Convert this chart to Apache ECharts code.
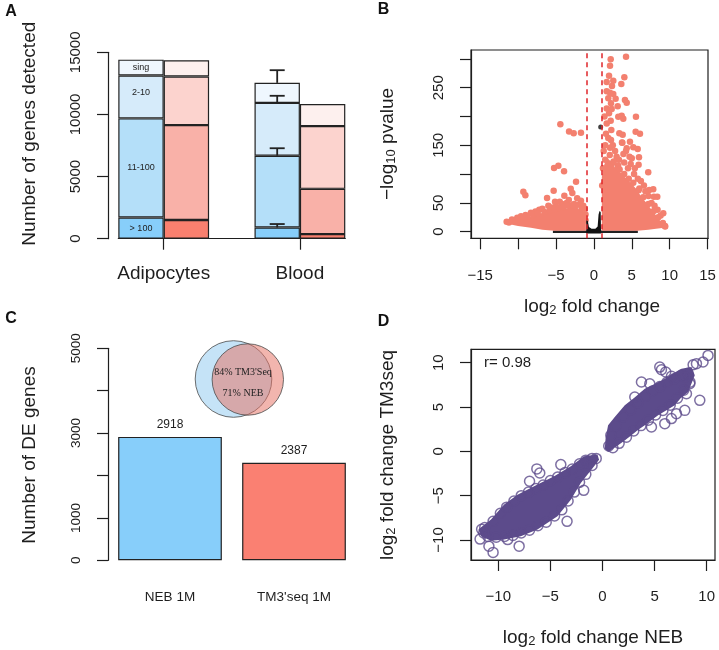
<!DOCTYPE html>
<html><head><meta charset="utf-8">
<script src="https://cdn.jsdelivr.net/npm/echarts@6/dist/echarts.min.js"></script>
<style>html,body{margin:0;padding:0;background:#fff}#c{width:719px;height:650px}</style>
</head><body><div id="c"></div>
<script>
// ---------- Panel A : genes detected ----------
const aCategories = ['Adipocytes NEB', 'Adipocytes TM3', '', 'Blood NEB', 'Blood TM3'];
const aGroupLabels = ['Adipocytes', 'Blood'];
const aLayers = ['> 100', '11-100', '2-10', 'sing'];
const aAdipoNEB = [1700, 7980, 3450, 1280];
const aAdipoTM3 = [1500, 7640, 3910, 1310];
const aBloodNEB = [900, 5780, 4250, 1610];
const aBloodTM3 = [370, 3640, 5050, 1770];
const aBloodNEBErrTop = [1180, 7280, 11500, 13560];
const aYTicks = [0, 5000, 10000, 15000];

// ---------- Panel B : volcano ----------
const bXTicks = [-15, -10, -5, 0, 5, 10, 15];
const bXLabels = [-15, -5, 0, 5, 10, 15];
const bYTicks = [0, 50, 100, 150, 200, 250, 300];
const bYLabels = [0, 50, 150, 250];
const bCutoffs = [-1, 1];
const bLeftCloud = [[-11.6,17],[-11,19],[-10,21],[-9.6,24],[-8.5,26],[-7.9,29],[-7,32],[-6.1,34],[-5.5,35],[-4.8,38],[-4,39],[-3,42],[-2.1,40],[-1.3,35],[-1.05,33],[-1.05,1.5],[-5.2,1.5],[-6.8,3.5],[-8.3,7],[-10,10],[-11.6,14]];
const bRightCloud = [[1.05,1.5],[1.05,95],[1.4,118],[1.9,126],[2.4,120],[2.9,108],[3.6,102],[4.3,92],[5.0,83],[5.6,74],[6.3,60],[7.0,49],[7.6,38],[8.3,27],[8.9,16],[9.3,10],[9.3,7],[8.2,5],[7.2,3.5],[5.7,1.5]];
const bNonSigBand = [[-5.4,2],[5.8,2],[5.8,-2.5],[-5.4,-2.5]];
const bNonSigCentre = [[-1.0,-3],[-1.0,20],[-0.8,19],[-0.65,8],[-0.3,5],[0.2,5],[0.5,9],[0.62,30],[0.75,36],[0.9,34],[0.95,-3]];
const bNonSigPoints = [[0.9,181.8]];
const bSigPoints = [
  [-11.5,17.4],[-9.3,69.4],[-9.03,63.2],[-6.17,58.5],[-5.3,71.2],[-5.12,52.1],[-4.5,52.1],[-3.89,62.5],
  [-3.05,74.7],[-2.84,67.2],[-2.35,86.8],[-1.7,53.8],[-5.25,110.6],[-4.68,114.6],[-3.93,104.8],
  [-4.42,186.5],[-3.27,174],[-2.66,171],[-1.7,172],
  [-10.8,21],[-10.1,24],[-9.6,27],[-9.0,29],[-8.3,33],[-7.7,35],[-7.2,38],[-6.8,40],[-6.0,45],[-5.6,42],
  [-5.0,44],[-4.2,48],[-3.6,50],[-3.3,55],[-2.6,48],[-2.2,58],[-1.9,47],[-1.4,45],[-1.2,40],
  [-11.2,16],[-10.4,19],[-9.9,22],[-9.3,24],[-8.8,26],[-8.0,29],[-7.4,31],[-6.5,34],[-5.8,37],[-5.2,38],
  [-4.6,41],[-4.0,43],[-3.4,45],[-2.8,46],[-2.4,44],[-1.6,40],[-1.1,30],[-1.1,20],
  [4.24,303.8],[2.22,299.3],[2.13,288],[2.0,270.8],[4.02,268],[1.69,259.9],[2.56,262],[3.62,256.4],
  [2.39,253],[1.69,243.7],[2.13,241.3],[2.56,239],[1.9,231.6],[2.87,231],[2.26,223],[4.1,228.6],
  [4.33,224],[1.69,214],[2.35,213],[3.14,218],[2.0,205.6],[3.22,199.7],[3.67,201.4],[3.88,196],
  [5.55,199.7],[1.69,188],[2.22,192.7],[2.3,176.6],[3.36,170.8],[3.8,168.4],[5.51,173.6],[6.08,170],
  [1.9,162.7],[2.26,159.2],[3.71,155],[4.76,156.3],[5.2,146.5],[5.78,143.6],[4.33,144.8],[2.13,145.8],
  [3.75,154.5],[4.24,140],[5.95,129.2],[5.0,127.4],[4.86,117.5],[5.9,116.3],[7.17,103.1],[2.56,119.8],
  [7.83,73.6],[7.3,72.4],[7.92,60.8],[8.36,60.8],[9.15,32],[9.38,9.9],
  [1.3,140],[1.5,150],[2.8,140],[3.0,130],[3.3,125],[4.0,120],[4.5,110],[3.2,115],[5.3,100],[5.8,92],
  [6.2,88],[6.6,80],[6.0,75],[6.8,70],[7.2,62],[7.6,50],[8.0,45],[8.4,38],[8.8,28],[5.4,110],[4.7,130],
  [3.9,135],[2.5,150],[1.6,170],[1.4,200],
  [1.1,80],[1.2,110],[1.5,125],[2.1,133],[2.6,122],[3.1,110],[3.4,108],[4.0,100],[4.6,92],[5.2,85],
  [5.9,72],[6.5,60],[7.2,48],[7.9,36],[8.5,25],[9.1,15],[9.4,9]
];

// ---------- Panel C : DE genes ----------
const cCategories = ['NEB 1M', "TM3'seq 1M"];
const cValues = [2910, 2300];
const cValueLabels = ['2918', '2387'];
const cYLabels = [0, 1000, 3000, 5000];
const cVennTexts = ["84% TM3'Seq", '71% NEB'];

// ---------- Panel D : fold change correlation ----------
const dTicks = [-10, -5, 0, 5, 10];
const dCorrelation = 'r= 0.98';
const dLowerCloud = [[-11.9,-8.8],[-10.7,-7.7],[-9.44,-6.0],[-8.16,-4.9],[-6.24,-3.75],[-4.64,-2.82],[-3.04,-1.69],[-1.76,-0.56],[-0.48,-0.37],[-0.33,-0.94],[-0.8,-1.69],[-2.08,-3.56],[-3.04,-5.45],[-4.32,-7.33],[-6.24,-8.83],[-7.84,-9.58],[-9.44,-9.96],[-10.7,-10.1],[-11.66,-9.58]];
const dUpperCloud = [[0.22,0.3],[0.3,1.5],[0.54,2.93],[1.2,3.9],[2.14,5.19],[3.0,6.0],[4.06,7.07],[5.0,7.6],[5.98,8.2],[6.8,8.8],[7.58,9.32],[8.54,9.5],[8.86,8.57],[8.22,6.7],[7.5,6.0],[6.94,5.19],[6.1,4.6],[5.34,4.06],[4.7,3.5],[4.06,2.93],[3.4,2.4],[2.78,1.8],[2.1,1.2],[1.5,0.68],[0.54,-0.07]];
const dPoints = [
  [-11.3,-8.6],[-10.5,-7.9],[-9.8,-7.0],[-9.2,-6.3],[-8.5,-5.6],[-7.8,-5.0],[-7.1,-4.6],[-6.4,-4.2],[-5.7,-3.8],
  [-5.0,-3.3],[-4.3,-2.9],[-3.6,-2.4],[-2.9,-2.0],[-2.2,-1.4],[-1.6,-1.0],[-1.0,-0.8],[-0.6,-0.8],
  [-1.0,-1.6],[-1.6,-2.6],[-2.2,-3.5],[-2.7,-4.6],[-3.3,-5.6],[-3.9,-6.6],[-4.6,-7.3],[-5.4,-8.0],[-6.2,-8.4],
  [-7.0,-8.9],[-7.8,-9.2],[-8.6,-9.5],[-9.4,-9.6],[-10.2,-9.7],[-11.0,-9.6],[-11.4,-9.2],
  [-6.3,-1.98],[-7.0,-3.38],[-4.0,-1.5],[-11.75,-9.9],[-10.9,-10.7],[-10.5,-11.4],[-8.0,-10.7],[-9.1,-9.96],
  [-3.4,-7.9],[-1.8,-4.4],[-6.02,-2.44],[-11.6,-8.8],
  [0.6,0.6],[0.8,1.8],[1.3,2.9],[2.0,3.9],[2.7,4.7],[3.4,5.5],[4.1,6.2],[4.8,6.8],[5.5,7.3],[6.2,7.8],
  [6.9,8.2],[7.6,8.6],[8.2,8.8],[8.4,7.8],[7.8,6.9],[7.2,6.0],[6.5,5.2],[5.8,4.6],[5.1,4.1],[4.4,3.5],
  [3.7,2.9],[3.0,2.3],[2.3,1.6],[1.6,0.9],[1.0,0.4],
  [10.13,10.82],[9.65,10.08],[9.02,9.89],[6.07,8.95],[5.5,9.5],[4.54,7.63],[3.74,7.82],[3.1,6.13],
  [9.34,5.75],[5.98,3.12],[6.62,3.69],[7.1,4.25],[7.9,4.62],[8.06,6.5],[8.38,7.63],[7.9,8.39],[4.7,2.75],
  [5.66,9.2],[6.62,8.46],[8.7,9.77]
];

// ---------- styling ----------
const FONT = 'Liberation Sans, Arial, sans-serif';
const INK = '#1e1e1e';
const aBlue = ['#87CEFA', '#B4DFF9', '#D6EBFA', '#EFF7FE'];
const aRed = ['#F9806F', '#F9B1A8', '#FCD3CE', '#FDF0EE'];
const salmon = '#F3806F';
const purple = '#5C4B8B';
const minus = v => String(v).replace('-', '\u2212');
const plain = v => String(v);

function polySeries(pts, xi, yi, color, z) {
  return {
    type: 'custom', xAxisIndex: xi, yAxisIndex: yi, data: pts, z: z, silent: true,
    renderItem: (params, api) => params.dataIndex === 0
      ? { type: 'polygon', shape: { points: pts.map(p => api.coord(p)) }, style: { fill: color } }
      : null
  };
}

const tickStyle = { show: true, lineStyle: { color: INK, width: 1.2 }, length: 11 };
const lineStyle = { show: true, onZero: false, lineStyle: { color: INK, width: 1.2 } };

// stacked layers of panel A
const aColumns = [aAdipoNEB, aAdipoTM3, null, aBloodNEB, aBloodTM3];
const aColors = [aBlue, aRed, null, aBlue, aRed];
const aSeries = aLayers.map((layer, li) => ({
  type: 'bar', stack: 'a', xAxisIndex: 0, yAxisIndex: 0, barCategoryGap: '0%',
  name: layer,
  itemStyle: { borderColor: '#222', borderWidth: 1.2 },
  data: aColumns.map((col, ci) => col === null ? '-' : {
    value: col[li],
    itemStyle: { color: aColors[ci][li] },
    label: ci === 0 ? { show: true, position: 'inside', formatter: layer, fontSize: 9, color: '#222',
      offset: layer === '2-10' ? [0, -4] : [0, 0] } : { show: false }
  })
}));
// error bars on Blood NEB
let cum = 0;
const aErrData = aBloodNEB.map((v, i) => { cum += v; return [3, cum, aBloodNEBErrTop[i]]; });

const option = {
  animation: false,
  textStyle: { fontFamily: FONT, color: INK },
  grid: [
    { left: 118.3, top: 52.3, width: 227, height: 186.4 },
    { left: 471, top: 50, width: 237, height: 188.3, show: true, borderColor: INK, borderWidth: 1.2 },
    { left: 108, top: 348.3, width: 248, height: 212 },
    { left: 471, top: 349.3, width: 244, height: 210.7, show: true, borderColor: INK, borderWidth: 1.2 }
  ],
  xAxis: [
    { type: 'category', gridIndex: 0, data: aCategories, show: false },
    { type: 'value', gridIndex: 0, position: 'bottom', min: 0, max: 5, axisLine: lineStyle, splitLine: { show: false },
      axisTick: Object.assign({ customValues: [1, 4] }, tickStyle),
      axisLabel: { customValues: [1, 4], formatter: v => v === 1 ? aGroupLabels[0] : aGroupLabels[1],
        fontSize: 19, color: INK, margin: 26 } },
    { type: 'value', gridIndex: 1, position: 'bottom', min: -16.2, max: 15.05, axisLine: lineStyle, splitLine: { show: false },
      axisTick: Object.assign({ customValues: bXTicks }, tickStyle),
      axisLabel: { customValues: bXLabels, formatter: minus, fontSize: 15, color: INK, margin: 30 } },
    { type: 'category', gridIndex: 2, position: 'bottom', data: cCategories, axisLine: { show: false }, axisTick: { show: false },
      axisLabel: { fontSize: 13.5, color: INK, margin: 30 } },
    { type: 'value', gridIndex: 3, position: 'bottom', min: -12.62, max: 10.8, axisLine: lineStyle, splitLine: { show: false },
      axisTick: Object.assign({ customValues: dTicks }, tickStyle),
      axisLabel: { customValues: dTicks, formatter: minus, fontSize: 15, color: INK, margin: 29 } }
  ],
  yAxis: [
    { type: 'value', gridIndex: 0, position: 'left', min: 0, max: 15000, interval: 5000, offset: 10.3,
      axisLine: lineStyle, axisTick: tickStyle, splitLine: { show: false },
      axisLabel: { customValues: aYTicks, formatter: plain, rotate: 90, fontSize: 15, color: INK, margin: 25 } },
    { type: 'value', gridIndex: 1, position: 'left', min: -11.5, max: 315.5, axisLine: lineStyle, splitLine: { show: false },
      axisTick: Object.assign({ customValues: bYTicks }, tickStyle),
      axisLabel: { customValues: bYLabels, formatter: plain, rotate: 90, fontSize: 15, color: INK, margin: 25 } },
    { type: 'value', gridIndex: 2, position: 'left', min: 0, max: 5000, interval: 1000, axisLine: lineStyle, splitLine: { show: false },
      axisTick: tickStyle,
      axisLabel: { customValues: cYLabels, formatter: plain, rotate: 90, fontSize: 13.5, color: INK, margin: 24.5 } },
    { type: 'value', gridIndex: 3, position: 'left', min: -12.26, max: 11.51, axisLine: lineStyle, splitLine: { show: false },
      axisTick: Object.assign({ customValues: dTicks }, tickStyle),
      axisLabel: { customValues: dTicks, formatter: minus, rotate: 90, fontSize: 15, color: INK, margin: 25 } }
  ],
  series: [
    ...aSeries,
    { type: 'custom', xAxisIndex: 0, yAxisIndex: 0, data: aErrData, z: 5,
      renderItem: (params, api) => {
        const p1 = api.coord([api.value(0), api.value(1)]);
        const p2 = api.coord([api.value(0), api.value(2)]);
        const st = { stroke: '#222', lineWidth: 1.8 };
        return { type: 'group', children: [
          { type: 'line', shape: { x1: p1[0], y1: p1[1], x2: p2[0], y2: p2[1] }, style: st },
          { type: 'line', shape: { x1: p2[0] - 7.5, y1: p2[1], x2: p2[0] + 7.5, y2: p2[1] }, style: st }
        ] };
      } },
    // B
    polySeries(bNonSigBand, 2, 1, '#222', 1),
    polySeries(bLeftCloud, 2, 1, salmon, 2),
    polySeries(bRightCloud, 2, 1, salmon, 2),
    { type: 'scatter', xAxisIndex: 2, yAxisIndex: 1, data: bSigPoints, symbolSize: 6.5, z: 3,
      itemStyle: { color: salmon, opacity: 1 }, silent: true },
    polySeries(bNonSigCentre, 2, 1, '#111', 4),
    { type: 'scatter', xAxisIndex: 2, yAxisIndex: 1, data: bNonSigPoints, symbolSize: 5, z: 4,
      itemStyle: { color: '#111' }, silent: true,
      markLine: { silent: true, symbol: 'none', label: { show: false }, z: 6,
        lineStyle: { color: '#E0262B', type: [5, 4], width: 1.5 },
        data: bCutoffs.map(v => ({ xAxis: v })) } },
    // C
    { type: 'bar', xAxisIndex: 3, yAxisIndex: 2, barWidth: 103.7,
      data: cValues.map((v, i) => ({ value: v, itemStyle: { color: i === 0 ? '#87CEFA' : '#FA8072' } })),
      itemStyle: { borderColor: '#222', borderWidth: 1.2 },
      label: { show: true, position: 'top', distance: 6, fontSize: 12, color: INK,
        formatter: p => cValueLabels[p.dataIndex] } },
    // D
    polySeries(dLowerCloud, 4, 3, purple, 2),
    polySeries(dUpperCloud, 4, 3, purple, 2),
    { type: 'scatter', xAxisIndex: 4, yAxisIndex: 3, data: dPoints, symbolSize: 10, z: 3, silent: true,
      itemStyle: { color: 'rgba(0,0,0,0)', borderColor: purple, borderWidth: 1.5 } }
  ],
  graphic: [
    // panel letters
    { type: 'text', x: 11, y: 12, style: { text: 'A', font: 'bold 16px ' + FONT, fill: '#111', align: 'center', verticalAlign: 'middle' } },
    { type: 'text', x: 383.5, y: 10, style: { text: 'B', font: 'bold 16px ' + FONT, fill: '#111', align: 'center', verticalAlign: 'middle' } },
    { type: 'text', x: 11, y: 319, style: { text: 'C', font: 'bold 16px ' + FONT, fill: '#111', align: 'center', verticalAlign: 'middle' } },
    { type: 'text', x: 383.5, y: 322, style: { text: 'D', font: 'bold 16px ' + FONT, fill: '#111', align: 'center', verticalAlign: 'middle' } },
    // axis titles
    { type: 'text', x: 30, y: 133.7, rotation: Math.PI / 2, style: { text: 'Number of genes detected', font: '19px ' + FONT, fill: INK, align: 'center', verticalAlign: 'middle' } },
    { type: 'text', x: 388, y: 144, rotation: Math.PI / 2, style: { text: '\u2212log{s|10} pvalue', font: '19px ' + FONT, fill: INK, align: 'center', verticalAlign: 'middle',
      rich: { s: { fontSize: 13, fontFamily: FONT, verticalAlign: 'bottom', lineHeight: 13, fill: INK } } } },
    { type: 'text', x: 592, y: 307, style: { text: 'log{s|2} fold change', font: '19px ' + FONT, fill: INK, align: 'center', verticalAlign: 'middle',
      rich: { s: { fontSize: 13, fontFamily: FONT, verticalAlign: 'bottom', lineHeight: 13, fill: INK } } } },
    { type: 'text', x: 30, y: 455, rotation: Math.PI / 2, style: { text: 'Number of DE genes', font: '19px ' + FONT, fill: INK, align: 'center', verticalAlign: 'middle' } },
    { type: 'text', x: 388, y: 455, rotation: Math.PI / 2, style: { text: 'log{s|2} fold change TM3seq', font: '19px ' + FONT, fill: INK, align: 'center', verticalAlign: 'middle',
      rich: { s: { fontSize: 13, fontFamily: FONT, verticalAlign: 'bottom', lineHeight: 13, fill: INK } } } },
    { type: 'text', x: 593, y: 638, style: { text: 'log{s|2} fold change NEB', font: '19px ' + FONT, fill: INK, align: 'center', verticalAlign: 'middle',
      rich: { s: { fontSize: 13, fontFamily: FONT, verticalAlign: 'bottom', lineHeight: 13, fill: INK } } } },
    { type: 'text', x: 484, y: 363, style: { text: dCorrelation, font: '15px ' + FONT, fill: INK, align: 'left', verticalAlign: 'middle' } },
    // venn
    { type: 'circle', shape: { cx: 233.5, cy: 379, r: 38.3 }, style: { fill: '#C5E3F7', stroke: '#4a4a4a', lineWidth: 0.8 } },
    { type: 'circle', shape: { cx: 247.8, cy: 379.5, r: 35.7 }, style: { fill: 'rgba(230,113,99,0.52)', stroke: '#4a4a4a', lineWidth: 0.8 } },
    { type: 'text', x: 243, y: 372.5, style: { text: cVennTexts[0], font: '10px Liberation Serif, Times New Roman, serif', fill: '#222', align: 'center', verticalAlign: 'middle' } },
    { type: 'text', x: 243, y: 393, style: { text: cVennTexts[1], font: '10px Liberation Serif, Times New Roman, serif', fill: '#222', align: 'center', verticalAlign: 'middle' } }
  ]
};

const chart = echarts.init(document.getElementById('c'), null, { renderer: 'canvas' });
chart.setOption(option);
</script>
</body></html>
